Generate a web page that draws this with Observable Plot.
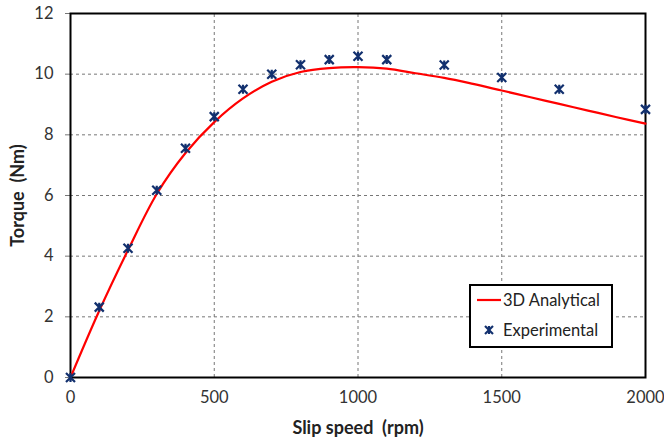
<!DOCTYPE html>
<html>
<head>
<meta charset="utf-8">
<script src="https://cdn.jsdelivr.net/npm/d3@7"></script>
<script src="https://cdn.jsdelivr.net/npm/@observablehq/plot@0.6"></script>
<style>
  html, body { margin: 0; padding: 0; background: #fff; }
  #wrap { position: relative; width: 664px; height: 444px; font-family: Lato, "Open Sans", sans-serif; }
  #legend { position: absolute; left: 469px; top: 284px; width: 140px; height: 60px; border: 2px solid #000; background: #fff; font-size: 16.5px; color: #222; }
  .row { position: absolute; left: 0; display: flex; align-items: center; white-space: nowrap; }
</style>
</head>
<body>
<div id="wrap"></div>
<script>
// Experimental data
const expSpeed = [0, 100, 200, 300, 400, 500, 600, 700, 800, 900, 1000, 1100, 1300, 1500, 1700, 2000];
const expTorque = [0, 2.32, 4.26, 6.17, 7.56, 8.6, 9.5, 10.0, 10.31, 10.48, 10.59, 10.48, 10.3, 9.89, 9.5, 8.84];
// 3D analytical curve
const anaSpeed = [0, 100, 200, 300, 400, 500, 600, 700, 800, 900, 1000, 1100, 1200, 1300, 1400, 1500, 1600, 1700, 1800, 1900, 2000];
const anaTorque = [0, 2.2, 4.2, 6.05, 7.4, 8.42, 9.2, 9.75, 10.07, 10.2, 10.23, 10.18, 10.03, 9.88, 9.68, 9.46, 9.24, 9.02, 8.8, 8.58, 8.37];
const xTicks = [0, 500, 1000, 1500, 2000];
const yTicks = [0, 2, 4, 6, 8, 10, 12];
const seriesNames = ["3D Analytical", "Experimental"];
const xTitle = "Slip speed\u00a0\u00a0(rpm)";
const yTitle = "Torque\u00a0\u00a0(Nm)";

const exp = expSpeed.map((s, i) => ({s, t: expTorque[i]}));
const ana = anaSpeed.map((s, i) => ({s, t: anaTorque[i]}));

const star = {
  draw(ctx, size) {
    const r = Math.sqrt(size / Math.PI);
    ctx.moveTo(-r, -r); ctx.lineTo(r, r);
    ctx.moveTo(r, -r); ctx.lineTo(-r, r);
    ctx.moveTo(0, -r); ctx.lineTo(0, r);
  }
};

const chart = Plot.plot({
  width: 664, height: 444,
  marginLeft: 70, marginRight: 19, marginTop: 13, marginBottom: 67,
  style: {fontFamily: "Lato, 'Open Sans', sans-serif", fontSize: "16px", color: "#333", background: "#fff"},
  x: {domain: [0, 2000], label: null},
  y: {domain: [0, 12], label: null},
  marks: [
    Plot.ruleY(yTicks.filter(d => d > 0 && d < 12), {stroke: "#777", strokeDasharray: "3,3", strokeWidth: 1, x1: 0, x2: 2000}),
    Plot.ruleX(xTicks.filter(d => d > 0 && d < 2000), {stroke: "#777", strokeDasharray: "3,3", strokeWidth: 1, y1: 0, y2: 12}),
    Plot.axisX({ticks: xTicks, tickFormat: d => String(d), tickSize: 0, tickPadding: 14, fontSize: 16.5, label: null}),
    Plot.axisY({ticks: yTicks, tickFormat: d => String(d), tickSize: 5, tickPadding: 12, fontSize: 16.5, label: null, stroke: "#777"}),
    Plot.frame({stroke: "#000", strokeWidth: 2}),
    Plot.line(ana, {x: "s", y: "t", stroke: "#ff0000", strokeWidth: 2.2, curve: "catmull-rom"}),
    Plot.dot(exp, {x: "s", y: "t", symbol: star, r: 4.5, stroke: "#12306e", strokeWidth: 2.2}),
    Plot.text([xTitle], {frameAnchor: "bottom", textAnchor: "middle", dy: 56, fontWeight: "bold", fontSize: 18, fill: "#222"}),
    Plot.text([yTitle], {frameAnchor: "left", textAnchor: "middle", dx: -52, rotate: -90, fontWeight: "bold", fontSize: 18, fill: "#222"})
  ]
});
const wrap = document.getElementById("wrap");
wrap.appendChild(chart);

const legend = document.createElement("div");
legend.id = "legend";
legend.innerHTML = `
  <div class="row" style="top:4px;left:5px;"><svg width="26" height="20"><line x1="1" x2="25" y1="10" y2="10" stroke="#ff0000" stroke-width="2.2"/></svg><span style="margin-left:1px">${seriesNames[0]}</span></div>
  <div class="row" style="top:34px;left:5px;"><svg width="26" height="20"><g stroke="#12306e" stroke-width="2.2"><line x1="9" y1="6" x2="17" y2="14"/><line x1="17" y1="6" x2="9" y2="14"/><line x1="13" y1="6" x2="13" y2="14"/></g></svg><span style="margin-left:1px">${seriesNames[1]}</span></div>`;
wrap.appendChild(legend);
</script>
</body>
</html>
